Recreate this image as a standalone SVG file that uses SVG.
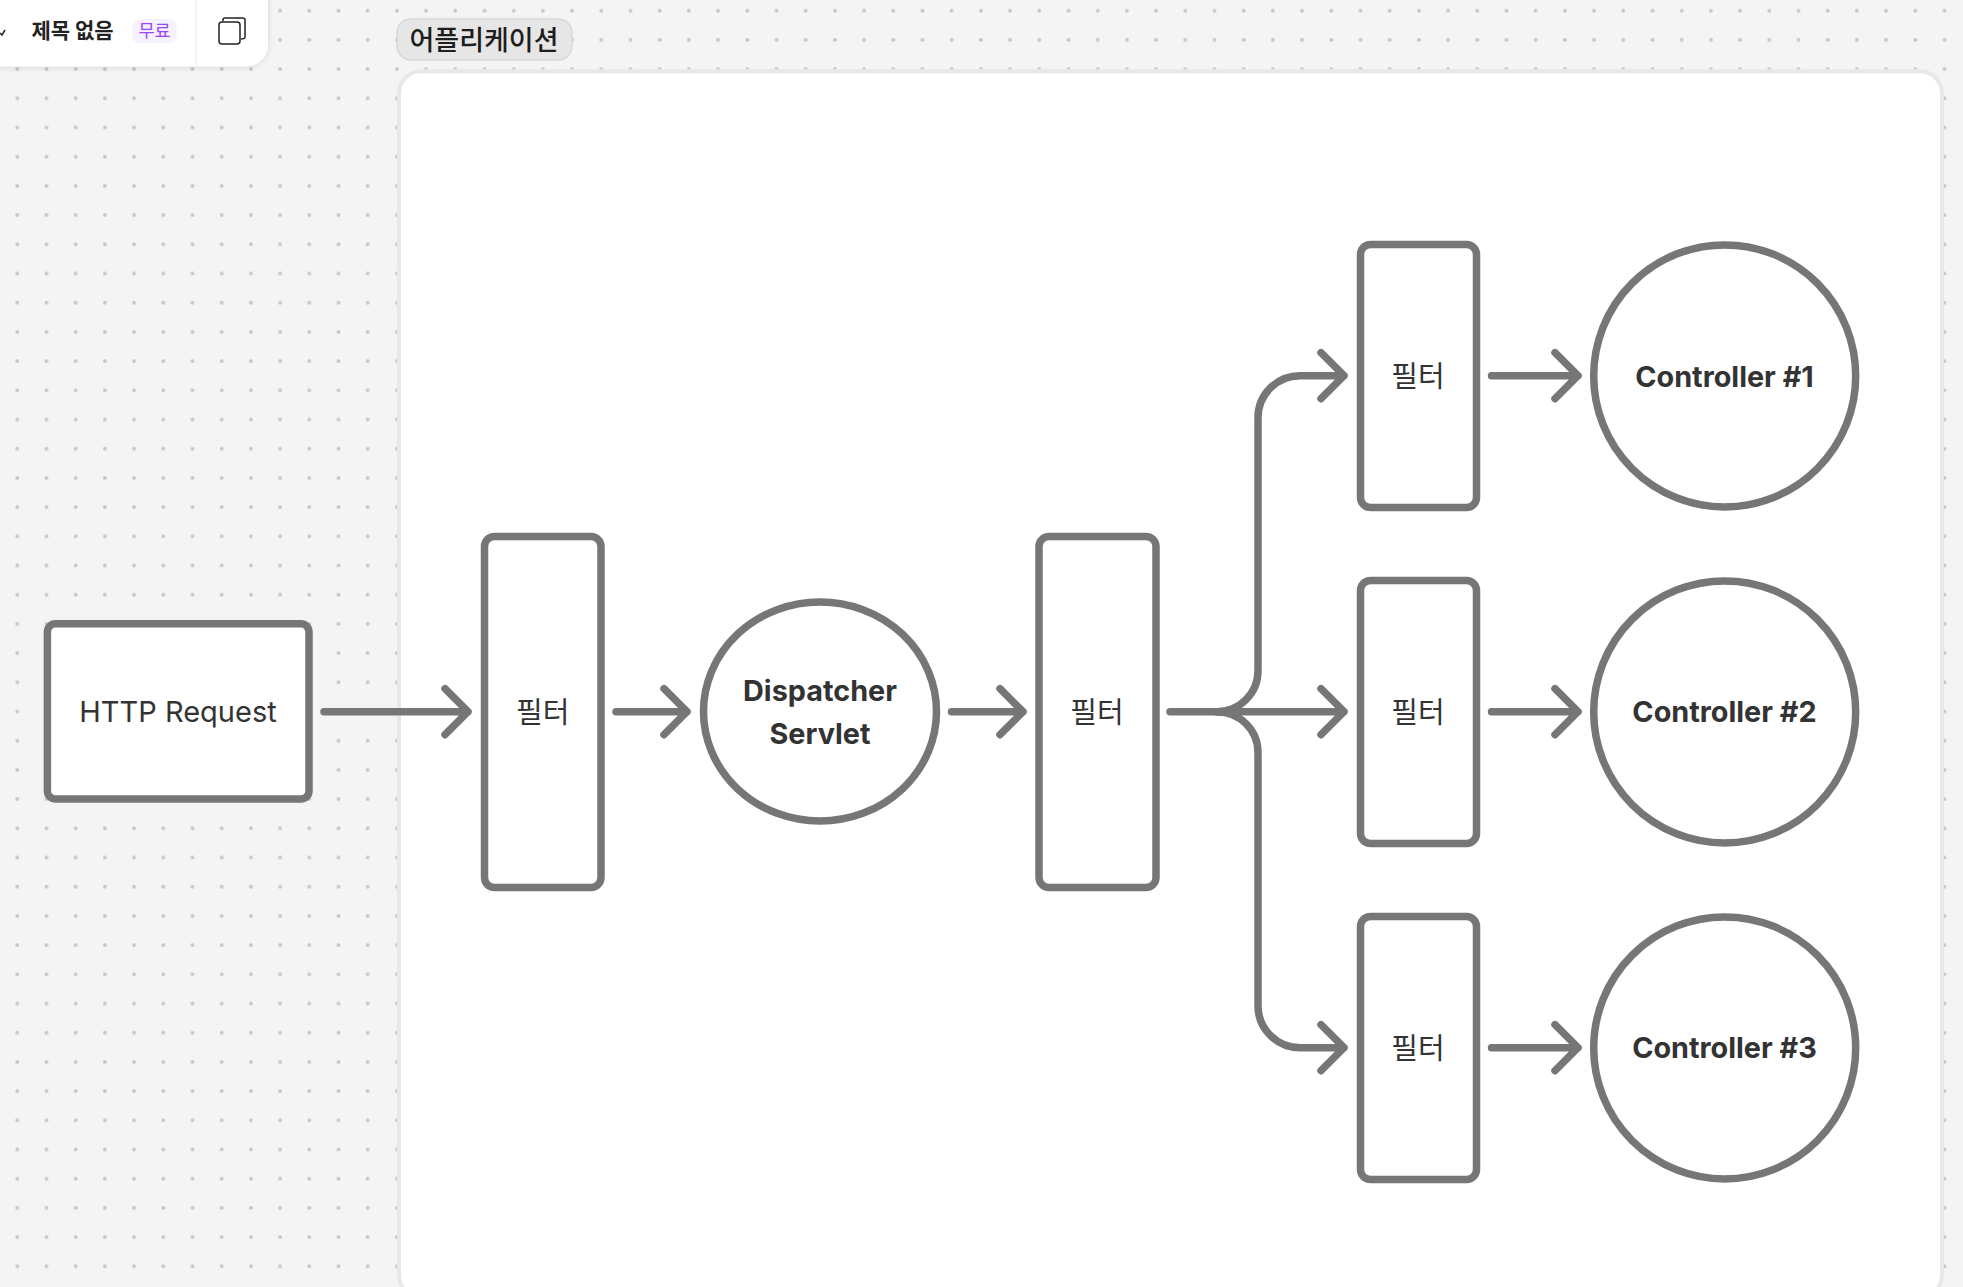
<svg xmlns="http://www.w3.org/2000/svg" width="1963" height="1287" viewBox="0 0 1963 1287">
<style>
.n{fill:#fff;stroke:#767676;stroke-width:7.500}
.c{fill:none;stroke:#767676;stroke-width:7.500;stroke-linecap:round;stroke-linejoin:round}
text{font-family:"Inter","Noto Sans CJK KR","Noto Sans",sans-serif;fill:#333;text-anchor:middle}
.k{font-family:"Noto Sans CJK KR",sans-serif;font-size:29px}
.l{font-size:29px}
.b{font-size:28.800px;font-weight:700}
</style>
<defs>
<pattern id="dots" x="2.7" y="-3.9" width="29.2" height="29.2" patternUnits="userSpaceOnUse"><circle cx="14.6" cy="14.6" r="1.900" fill="#c6c6c6"/></pattern>
<filter id="sh" x="-10%" y="-20%" width="120%" height="150%"><feDropShadow dx="0" dy="1" stdDeviation="3" flood-color="#000" flood-opacity=".12"/></filter>
</defs>
<rect width="1963" height="1287" fill="#f4f4f4"/>
<rect width="1963" height="1287" fill="url(#dots)"/>
<g id="toolbar">
<rect x="-30" y="-30" width="298" height="96.500" rx="22" fill="#fff" filter="url(#sh)"/>
<path d="M196 0V66.500" stroke="#ececec" stroke-width="1.200"/>
<path d="M0 33 2 35 5 30" fill="none" stroke="#222" stroke-width="1.500"/>
<text x="72.500" y="37.500" style="font-family:'Noto Sans CJK KR',sans-serif;font-size:21px;font-weight:700;fill:#222">제목 없음</text>
<rect x="132.500" y="19" width="44" height="24" rx="7" fill="#f6f1ff"/>
<text x="154.500" y="37" style="font-family:'Noto Sans CJK KR',sans-serif;font-size:17.500px;fill:#9747ff">무료</text>
<rect x="219" y="22" width="21" height="22" rx="3" fill="none" stroke="#222" stroke-width="1.500"/>
<path d="M223 21V20Q223 18 225 18H242.500Q245 18 245 20V37Q245 39 241 39" fill="none" stroke="#222" stroke-width="1.500"/>
</g>
<g id="bottom-toolbar">
<rect x="776" y="1284" width="854" height="30" rx="6" fill="#fff" filter="url(#sh)"/>
<path d="M897 1285V1287M1210 1285V1287" stroke="#d8d8d8"/>
</g>
<g id="app-panel">
<rect x="399" y="71.300" width="1543" height="1226" rx="22" fill="#fff" stroke="#e8e8e8" stroke-width="4"/>
</g>
<g id="app-label">
<rect x="397" y="19" width="175" height="41" rx="14" fill="#e6e6e6" stroke="#d8d8d8" stroke-width="1.500"/>
<text x="484" y="49.500" style="font-family:'Noto Sans CJK KR',sans-serif;font-size:27px;font-weight:500;fill:#1e1e1e">어플리케이션</text>
</g>
<g id="http-request">
<rect class="n" x="47.400" y="623.700" width="261.600" height="175.300" rx="8"/>
<text class="l" x="178" y="722">HTTP Request</text>
</g>
<g id="filter-1">
<rect class="n" x="484.500" y="536.500" width="116.500" height="351" rx="10"/>
<text class="k" x="542.700" y="722.500">필터</text>
</g>
<g id="dispatcher">
<ellipse class="n" cx="820" cy="711.500" rx="116.500" ry="109.500"/>
<text class="b" x="820" y="701">Dispatcher</text>
<text class="b" x="820" y="744">Servlet</text>
</g>
<g id="filter-2">
<rect class="n" x="1039" y="536.500" width="117" height="351" rx="10"/>
<text class="k" x="1097" y="722.500">필터</text>
</g>
<g id="filter-c1">
<rect class="n" x="1360.500" y="244.500" width="116" height="263" rx="10"/>
<text class="k" x="1418" y="386.500">필터</text>
</g>
<g id="filter-c2">
<rect class="n" x="1360.500" y="580.500" width="116" height="263" rx="10"/>
<text class="k" x="1418" y="722.500">필터</text>
</g>
<g id="filter-c3">
<rect class="n" x="1360.500" y="916.500" width="116" height="263" rx="10"/>
<text class="k" x="1418" y="1058.500">필터</text>
</g>
<g id="controller-1">
<circle class="n" cx="1724.700" cy="375.900" r="131"/>
<text class="b" x="1724.500" y="386.500">Controller #1</text>
</g>
<g id="controller-2">
<circle class="n" cx="1724.700" cy="711.900" r="131"/>
<text class="b" x="1724.500" y="722">Controller #2</text>
</g>
<g id="controller-3">
<circle class="n" cx="1724.700" cy="1047.900" r="131"/>
<text class="b" x="1724.500" y="1058">Controller #3</text>
</g>
<g id="connectors">
<path class="c" d="M324 711.700H468M445 688.700 468 711.700 445 734.700"/>
<path class="c" d="M616 711.700H687M664 688.700 687 711.700 664 734.700"/>
<path class="c" d="M951.500 711.700H1023M1000 688.700 1023 711.700 1000 734.700"/>
<path class="c" d="M1170 711.700H1344M1321 688.700 1344 711.700 1321 734.700"/>
<path class="c" d="M1217 711.700A41 41 0 0 0 1258 670.700V417.700A42 42 0 0 1 1300 375.700H1344M1321 352.700 1344 375.700 1321 398.700"/>
<path class="c" d="M1217 711.700A41 41 0 0 1 1258 752.700V1005.700A42 42 0 0 0 1300 1047.700H1344M1321 1024.700 1344 1047.700 1321 1070.700"/>
<path class="c" d="M1491.500 375.700H1578M1555 352.700 1578 375.700 1555 398.700"/>
<path class="c" d="M1491.500 711.700H1578M1555 688.700 1578 711.700 1555 734.700"/>
<path class="c" d="M1491.500 1047.700H1578M1555 1024.700 1578 1047.700 1555 1070.700"/>
</g>
</svg>
